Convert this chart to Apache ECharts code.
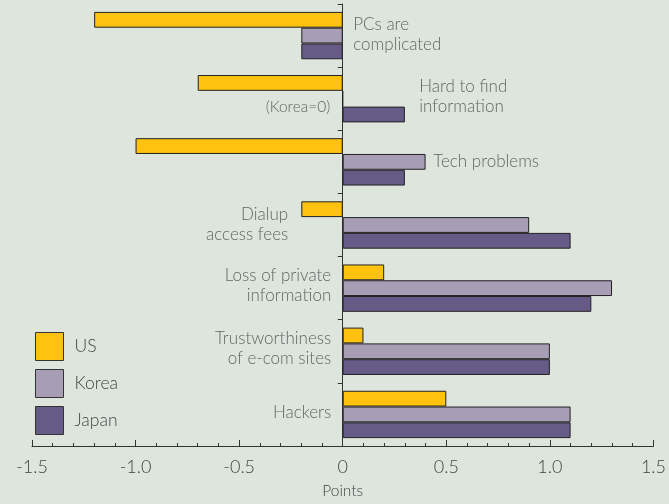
<!DOCTYPE html>
<html>
<head>
<meta charset="utf-8">
<script src="https://cdn.jsdelivr.net/npm/echarts@6/dist/echarts.min.js"></script>
<style>
html,body{margin:0;padding:0;background:#dde5dd;}
#c{width:669px;height:504px;}
</style>
</head>
<body>
<div id="c"></div>
<script>
// ---- data ----
var categories = ['PCs are complicated', 'Hard to find information', 'Tech problems', 'Dialup access fees', 'Loss of private information', 'Trustworthiness of e-com sites', 'Hackers'];
var labelTexts = ['PCs are\ncomplicated', 'Hard to find\ninformation', 'Tech problems', 'Dialup\naccess fees', 'Loss of private\ninformation', 'Trustworthiness\nof e-com sites', 'Hackers'];
var usValues    = [-1.2, -0.7, -1.0, -0.2, 0.2, 0.1, 0.5];
var koreaValues = [-0.2,  0.0,  0.4,  0.9, 1.3, 1.0, 1.1];
var japanValues = [-0.2,  0.3,  0.3,  1.1, 1.2, 1.0, 1.1];
var xTicks = [-1.5, -1.0, -0.5, 0, 0.5, 1.0, 1.5];
var noteText = '(Korea=0)';
var noteCategory = 'Hard to find information';

// ---- layout / style (not data) ----
var labelLayout = [
  {pos: 'right', dist: 10, off: [0, -1]},
  {pos: 'right', dist: 10, off: [66, -2]},
  {pos: 'right', dist: 10, off: [80, 0]},
  {pos: 'left',  dist: 54, off: [0, 0]},
  {pos: 'left',  dist: 11, off: [0, -3]},
  {pos: 'left',  dist: 11, off: [0, -3]},
  {pos: 'left',  dist: 11, off: [0, -2]}
];
var FONT = 'Lato';
var TXT = '#444';

var labelData = categories.map(function (c, i) {
  var L = labelLayout[i];
  return {
    value: [0, c],
    label: {
      show: true, formatter: labelTexts[i], position: L.pos, distance: L.dist,
      offset: L.off, align: L.pos === 'right' ? 'left' : 'right',
      color: TXT, fontFamily: FONT, fontSize: 17, fontWeight: 300, lineHeight: 20
    }
  };
});
labelData.push({
  value: [0, noteCategory],
  label: {show: true, formatter: noteText, position: 'left', distance: 12, offset: [0, 8],
    align: 'right', color: TXT, fontFamily: FONT, fontSize: 15.5, fontWeight: 300}
});

function barSeries(name, data, color) {
  return {
    name: name, type: 'bar', data: data, barGap: '0%', barCategoryGap: '25%',
    itemStyle: {color: color, borderColor: '#222', borderWidth: 1},
    silent: true, z: 2
  };
}

var chart = echarts.init(document.getElementById('c'));
chart.setOption({
  backgroundColor: '#dde5dd',
  animation: false,
  grid: {left: 32, right: 15, top: 4, bottom: 49, containLabel: false},
  legend: {
    data: ['US', 'Korea', 'Japan'], orient: 'vertical', left: 35, top: 332, padding: 0,
    icon: 'rect', itemWidth: 28, itemHeight: 28, itemGap: 8,
    itemStyle: {borderColor: '#333', borderWidth: 1},
    textStyle: {color: TXT, fontFamily: FONT, fontSize: 17.5, fontWeight: 300, padding: [0, 0, 0, 6]},
    selectedMode: false
  },
  xAxis: {
    type: 'value', min: -1.5, max: 1.5, interval: 0.5,
    name: 'Points', nameLocation: 'middle', nameGap: 37,
    nameTextStyle: {color: TXT, fontFamily: FONT, fontSize: 15.5, fontWeight: 300},
    axisLine: {show: true, onZero: false, lineStyle: {color: '#333', width: 1}},
    axisTick: {show: true, inside: true, length: 6, lineStyle: {color: '#333'}},
    minorTick: {show: true, splitNumber: 5, length: 3, lineStyle: {color: '#333'}},
    splitLine: {show: false},
    axisLabel: {
      color: TXT, fontFamily: FONT, fontSize: 18, fontWeight: 300, margin: 12,
      formatter: function (v) {
        var i = xTicks.indexOf(Math.round(v * 10) / 10);
        if (i < 0) return '';
        var t = xTicks[i];
        return t === 0 ? '0' : t.toFixed(1);
      }
    }
  },
  yAxis: {
    type: 'category', data: categories, inverse: true,
    axisLine: {show: true, onZero: true, lineStyle: {color: '#333', width: 1}},
    axisTick: {show: true, inside: false, length: 5, alignWithLabel: false, lineStyle: {color: '#333'}},
    axisLabel: {show: false},
    splitLine: {show: false}
  },
  series: [
    barSeries('US', usValues, '#FFC20F'),
    barSeries('Korea', koreaValues, '#A79DB5'),
    barSeries('Japan', japanValues, '#655B86'),
    {
      name: 'labels', type: 'scatter', data: labelData, symbol: 'circle', symbolSize: 1,
      silent: true, z: 5, itemStyle: {color: 'rgba(0,0,0,0)'}
    }
  ]
});
</script>
</body>
</html>
